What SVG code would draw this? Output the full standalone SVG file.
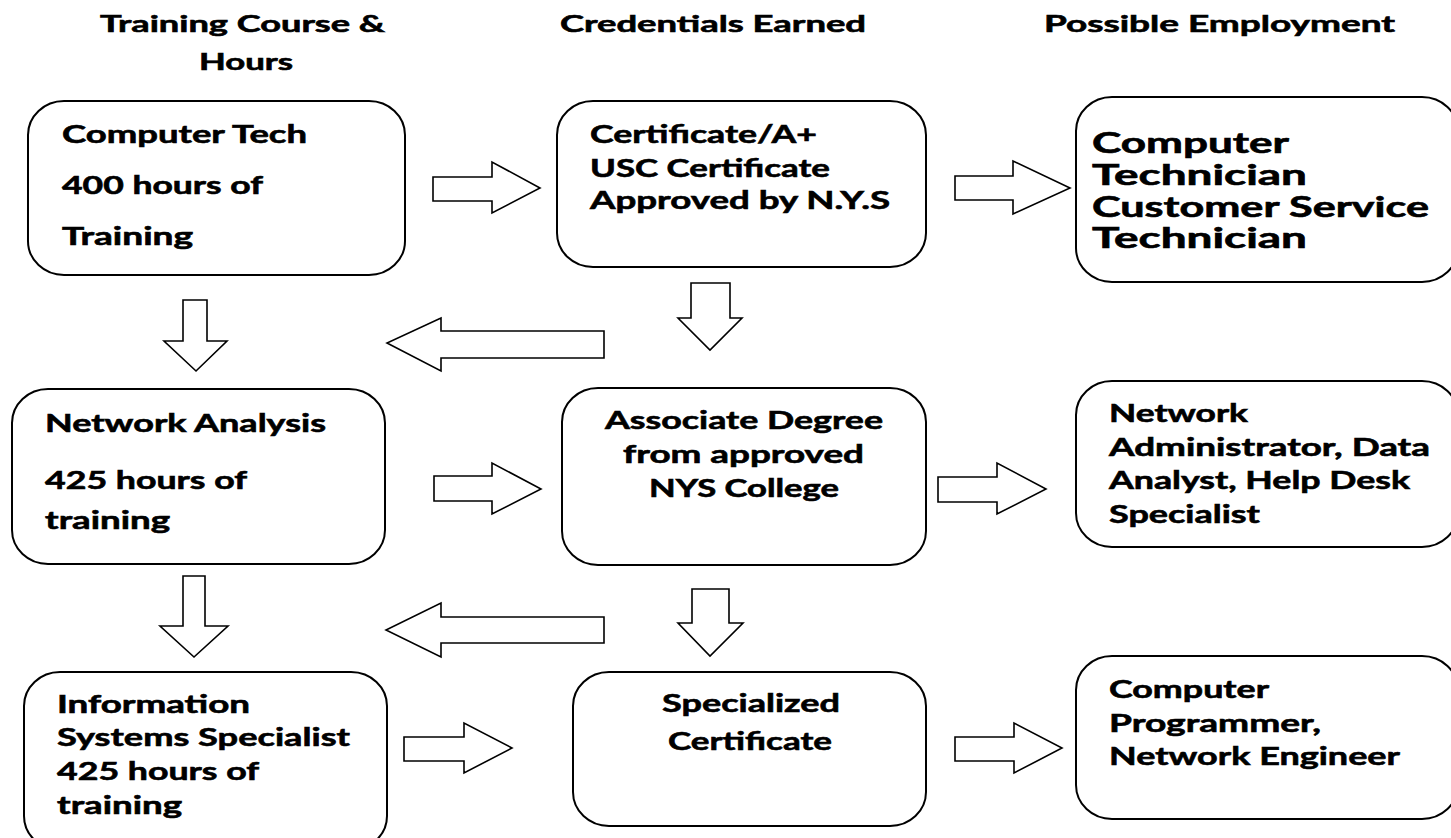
<svg xmlns="http://www.w3.org/2000/svg" width="1451" height="838" viewBox="0 0 1451 838">
<style>
.box{fill:#fff;stroke:#000;stroke-width:2}
.arr{fill:#fff;stroke:#000;stroke-width:1.6;stroke-linejoin:miter}
text{font-family:Lato,"Open Sans","Liberation Sans",sans-serif;font-weight:bold;fill:#000;stroke:#000;stroke-width:0.6}
.h{font-size:23px}
.t{font-size:25px}
.big{font-size:28px}
</style>
<rect width="1451" height="838" fill="#fff"/>
<g id="headers">
<text class="h" x="100" y="32" textLength="285" lengthAdjust="spacingAndGlyphs">Training Course &amp;</text>
<text class="h" x="199" y="70" textLength="94" lengthAdjust="spacingAndGlyphs">Hours</text>
<text class="h" x="560" y="32" textLength="306" lengthAdjust="spacingAndGlyphs">Credentials Earned</text>
<text class="h" x="1044" y="32" textLength="351" lengthAdjust="spacingAndGlyphs">Possible Employment</text>
</g>
<g id="connectors">
<polygon class="arr" points="433,177 492,177 492,162 540,188 492,213 492,201 433,201"/>
<polygon class="arr" points="955,176 1013,176 1013,161 1070,188 1013,214 1013,200 955,200"/>
<polygon class="arr" points="434,476 492,476 492,463 541,489 492,514 492,501 434,501"/>
<polygon class="arr" points="938,477 997,477 997,463 1046,489 997,514 997,502 938,502"/>
<polygon class="arr" points="404,737 464,737 464,723 512,748 464,773 464,761 404,761"/>
<polygon class="arr" points="955,737 1014,737 1014,723 1062,748 1014,773 1014,761 955,761"/>
<polygon class="arr" points="183,300 207,300 207,341 227,341 196,371 164,341 183,341"/>
<polygon class="arr" points="691,283 730,283 730,318 742,318 710,350 678,318 691,318"/>
<polygon class="arr" points="183,576 205,576 205,626 228,626 194,657 160,626 183,626"/>
<polygon class="arr" points="692,589 729,589 729,623 743,623 710,656 678,623 692,623"/>
<polygon class="arr" points="604,331 441,331 441,318 387,343 441,371 441,358 604,358"/>
<polygon class="arr" points="604,617 441,617 441,603 386,630 441,657 441,643 604,643"/>
</g>
<g id="n1">
<rect class="box" x="28" y="101" width="377" height="174" rx="36" ry="34"/>
<text class="t" x="62" y="143" textLength="245" lengthAdjust="spacingAndGlyphs">Computer Tech</text>
<text class="t" x="62" y="194" textLength="201" lengthAdjust="spacingAndGlyphs">400 hours of</text>
<text class="t" x="62" y="245" textLength="131" lengthAdjust="spacingAndGlyphs">Training</text>
</g>
<g id="n2">
<rect class="box" x="557" y="101" width="369" height="166" rx="36" ry="34"/>
<text class="t" x="590" y="143" textLength="227" lengthAdjust="spacingAndGlyphs">Certificate/A+</text>
<text class="t" x="590" y="177" textLength="240" lengthAdjust="spacingAndGlyphs">USC Certificate</text>
<text class="t" x="590" y="209" textLength="300" lengthAdjust="spacingAndGlyphs">Approved by N.Y.S</text>
</g>
<g id="n3">
<rect class="box" x="1076" y="97" width="382" height="185" rx="36" ry="34"/>
<text class="big" x="1092" y="153" textLength="197" lengthAdjust="spacingAndGlyphs">Computer</text>
<text class="big" x="1092" y="185" textLength="215" lengthAdjust="spacingAndGlyphs">Technician</text>
<text class="big" x="1092" y="217" textLength="337" lengthAdjust="spacingAndGlyphs">Customer Service</text>
<text class="big" x="1092" y="248" textLength="215" lengthAdjust="spacingAndGlyphs">Technician</text>
</g>
<g id="n4">
<rect class="box" x="12" y="389" width="373" height="175" rx="36" ry="34"/>
<text class="t" x="45" y="432" textLength="281" lengthAdjust="spacingAndGlyphs">Network Analysis</text>
<text class="t" x="45" y="489" textLength="202" lengthAdjust="spacingAndGlyphs">425 hours of</text>
<text class="t" x="45" y="529" textLength="125" lengthAdjust="spacingAndGlyphs">training</text>
</g>
<g id="n5">
<rect class="box" x="562" y="388" width="364" height="177" rx="36" ry="34"/>
<text class="t" x="605" y="429" textLength="278" lengthAdjust="spacingAndGlyphs">Associate Degree</text>
<text class="t" x="623" y="463" textLength="241" lengthAdjust="spacingAndGlyphs">from approved</text>
<text class="t" x="649" y="497" textLength="190" lengthAdjust="spacingAndGlyphs">NYS College</text>
</g>
<g id="n6">
<rect class="box" x="1076" y="381" width="382" height="166" rx="36" ry="34"/>
<text class="t" x="1109" y="422" textLength="139" lengthAdjust="spacingAndGlyphs">Network</text>
<text class="t" x="1109" y="456" textLength="321" lengthAdjust="spacingAndGlyphs">Administrator, Data</text>
<text class="t" x="1109" y="489" textLength="301" lengthAdjust="spacingAndGlyphs">Analyst, Help Desk</text>
<text class="t" x="1109" y="523" textLength="151" lengthAdjust="spacingAndGlyphs">Specialist</text>
</g>
<g id="n7">
<rect class="box" x="24" y="672" width="363" height="178" rx="36" ry="34"/>
<text class="t" x="57" y="713" textLength="193" lengthAdjust="spacingAndGlyphs">Information</text>
<text class="t" x="57" y="746" textLength="293" lengthAdjust="spacingAndGlyphs">Systems Specialist</text>
<text class="t" x="57" y="780" textLength="202" lengthAdjust="spacingAndGlyphs">425 hours of</text>
<text class="t" x="57" y="814" textLength="125" lengthAdjust="spacingAndGlyphs">training</text>
</g>
<g id="n8">
<rect class="box" x="573" y="672" width="353" height="154" rx="36" ry="34"/>
<text class="t" x="662" y="712" textLength="178" lengthAdjust="spacingAndGlyphs">Specialized</text>
<text class="t" x="668" y="750" textLength="164" lengthAdjust="spacingAndGlyphs">Certificate</text>
</g>
<g id="n9">
<rect class="box" x="1076" y="656" width="382" height="163" rx="36" ry="34"/>
<text class="t" x="1109" y="698" textLength="160" lengthAdjust="spacingAndGlyphs">Computer</text>
<text class="t" x="1109" y="732" textLength="212" lengthAdjust="spacingAndGlyphs">Programmer,</text>
<text class="t" x="1109" y="765" textLength="291" lengthAdjust="spacingAndGlyphs">Network Engineer</text>
</g>
</svg>
